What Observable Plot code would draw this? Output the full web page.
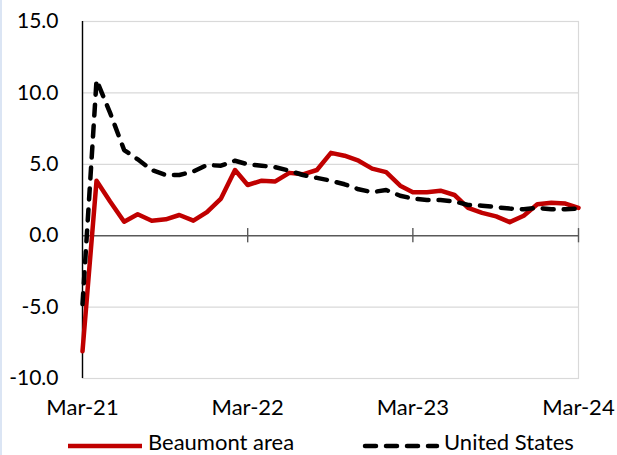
<!DOCTYPE html>
<html><head><meta charset="utf-8">
<script src="https://cdn.jsdelivr.net/npm/d3@7"></script>
<script src="https://cdn.jsdelivr.net/npm/@observablehq/plot@0.6"></script>
<style>
body{margin:0;background:#fff;}
#wrap{position:relative;width:617px;height:455px;overflow:hidden;font-family:Lato, sans-serif;}
#edge{position:absolute;left:0;top:0;width:2px;height:455px;background:#dbe5f4;}
#chart{position:absolute;left:0;top:0;}
#legend{position:absolute;left:0;top:425px;}
</style></head><body><div id="wrap"><div id="chart"></div><div id="legend"></div><div id="edge"></div></div>
<script>
const startMonth = "2021-03-01";
const seriesNames = ["Beaumont area", "United States"];
const seriesColors = ["#c00000", "#000000"];
const beaumont = [-8.1, 3.85, 2.4, 0.98, 1.5, 1.05, 1.15, 1.45, 1.05, 1.65, 2.6, 4.6, 3.55, 3.85, 3.8, 4.4, 4.3, 4.6, 5.8, 5.6, 5.25, 4.7, 4.45, 3.5, 3.05, 3.05, 3.15, 2.85, 1.95, 1.6, 1.35, 0.95, 1.4, 2.2, 2.3, 2.25, 1.95];
const unitedStates = [-4.8, 10.9, 8.6, 6.0, 5.35, 4.6, 4.25, 4.25, 4.5, 4.95, 4.9, 5.25, 5.0, 4.9, 4.8, 4.55, 4.25, 4.05, 3.85, 3.6, 3.25, 3.05, 3.2, 2.8, 2.6, 2.5, 2.5, 2.4, 2.15, 2.1, 2.0, 1.9, 1.85, 1.95, 1.85, 1.85, 1.9];
const yTicks = [-10, -5, 0, 5, 10, 15];
const xTickLabels = ["Mar-21", "Mar-22", "Mar-23", "Mar-24"];

const parseTick = d3.utcParse("%b-%y");
const xTickDates = xTickLabels.map(parseTick);
const start = new Date(startMonth);
const dates = beaumont.map((_, i) => d3.utcMonth.offset(start, i));
const rows = dates.map((d, i) => ({date: d, beaumont: beaumont[i], us: unitedStates[i]}));

const chart = Plot.plot({
  width: 617, height: 425,
  marginLeft: 82, marginRight: 39, marginTop: 21, marginBottom: 47,
  style: {fontFamily: "Lato, sans-serif", fontSize: "21px", color: "#000", background: "transparent", overflow: "visible"},
  x: {type: "utc", domain: [xTickDates[0], xTickDates[xTickDates.length - 1]]},
  y: {domain: [yTicks[0], yTicks[yTicks.length - 1]]},
  marks: [
    Plot.gridY(yTicks.filter(d => d !== 0), {stroke: "#d9d9d9", strokeOpacity: 1, strokeWidth: 1.2}),
    Plot.frame({stroke: "#d9d9d9", strokeWidth: 1.2}),
    Plot.ruleY([0], {stroke: "#595959", strokeWidth: 1.4}),
    Plot.ruleX(xTickDates.slice(1), {y1: -0.5, y2: 0.5, stroke: "#595959", strokeWidth: 1.4}),
    Plot.ruleX([xTickDates[0]], {stroke: "#000", strokeWidth: 1.4}),
    Plot.axisY(yTicks, {tickSize: 0, tickPadding: 24, tickFormat: d => d.toFixed(1), label: null, fontSize: 21}),
    Plot.axisX(xTickDates, {tickSize: 0, tickPadding: 21, tickFormat: d3.utcFormat("%b-%y"), label: null, fontSize: 22}),
    Plot.line(rows, {x: "date", y: "beaumont", stroke: seriesColors[0], strokeWidth: 4.5, strokeLinejoin: "round"}),
    Plot.line(rows, {x: "date", y: "us", stroke: seriesColors[1], strokeWidth: 4.5, strokeDasharray: "11,10", strokeLinecap: "round", strokeLinejoin: "round"})
  ]
});
document.getElementById("chart").appendChild(chart);

// Legend
const leg = d3.select("#legend").append("svg").attr("width", 617).attr("height", 30)
  .style("font-family", "Lato, sans-serif").style("font-size", "22px");
const legendPos = [{x0: 68, x1: 142, tx: 148}, {x0: 365, x1: 437, tx: 444}];
seriesNames.forEach((name, i) => {
  const p = legendPos[i];
  const ln = leg.append("line").attr("x1", p.x0).attr("x2", p.x1).attr("y1", 21).attr("y2", 21)
    .attr("stroke", seriesColors[i]).attr("stroke-width", 4.5).attr("stroke-linecap", "round");
  if (i === 1) ln.attr("stroke-dasharray", "11,10");
  else ln.attr("stroke-linecap", "butt");
  leg.append("text").attr("x", p.tx).attr("y", 25).attr("fill", "#000").text(name);
});
</script>
</body></html>
